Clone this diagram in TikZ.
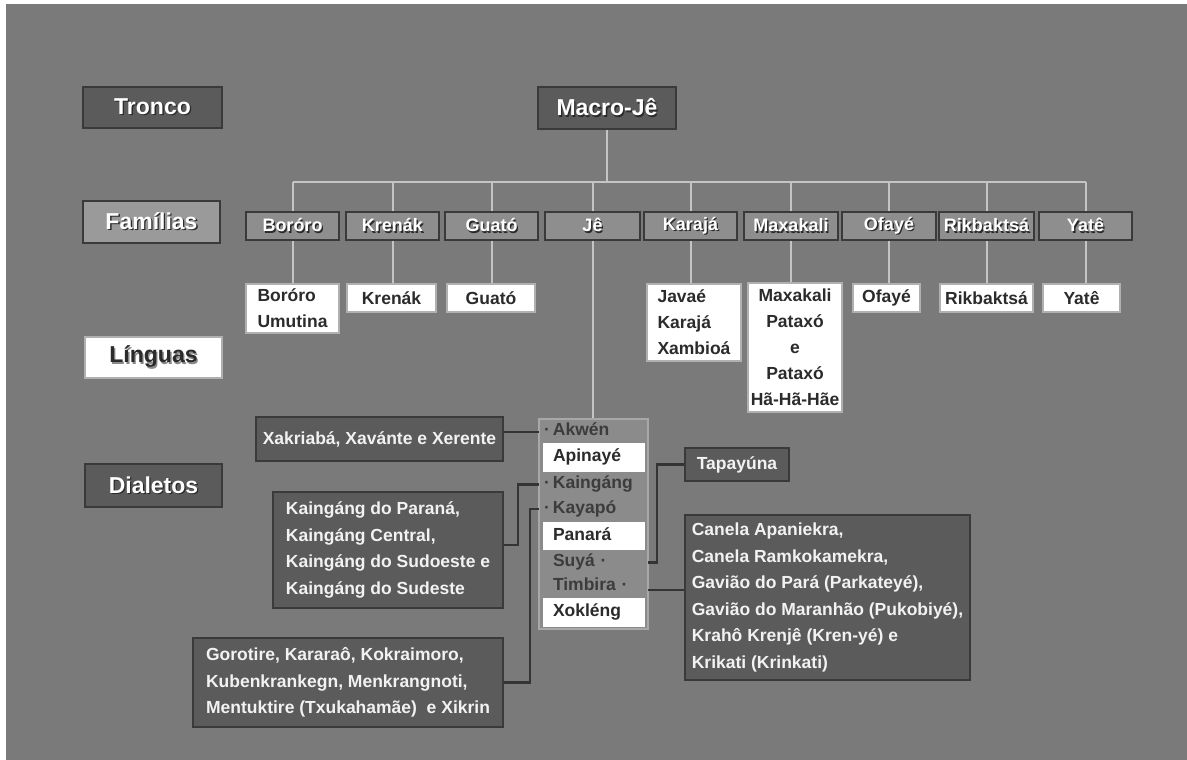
\documentclass[tikz,border=0pt]{standalone}
\usepackage{fontspec}
\setmainfont{Liberation Sans}
\definecolor{bgc}{HTML}{7A7A7A}
\definecolor{darkbox}{HTML}{5B5B5B}
\definecolor{boxline}{HTML}{3A3A3A}
\definecolor{fambox}{HTML}{8E8E8E}
\definecolor{famhdr}{HTML}{9A9A9A}
\definecolor{langline}{HTML}{B0B0B0}
\definecolor{langtext}{HTML}{2B2B2B}
\definecolor{busc}{HTML}{C4C4C4}
\definecolor{dlinec}{HTML}{343434}
\definecolor{diatext}{HTML}{F2F2F2}
\definecolor{jefill}{HTML}{8B8B8B}
\definecolor{jeline}{HTML}{A8A8A8}
\definecolor{rowtext}{HTML}{3C3C3C}
\definecolor{shadowc}{HTML}{2A2A2A}
\definecolor{shadowl}{HTML}{8A8A8A}
\newcommand\shd[1]{\leavevmode\rlap{\kern1.3pt\raisebox{-1.3pt}{\textcolor{shadowc}{#1}}}#1}
\newcommand\shl[1]{\leavevmode\rlap{\kern1.3pt\raisebox{-1.3pt}{\textcolor{shadowl}{#1}}}#1}
\tikzset{
  hdr/.style={draw=boxline, line width=1.6pt, inner sep=0pt, font=\bfseries\fontsize{23}{26}\selectfont},
  darkhdr/.style={hdr, fill=darkbox, text=white},
  famhd/.style={hdr, fill=famhdr, text=white},
  langhd/.style={hdr, draw=langline, fill=white, text=langtext},
  fam/.style={draw=boxline, line width=1.3pt, fill=fambox, text=white, minimum height=28pt, inner sep=0pt, font=\bfseries\fontsize{18}{20}\selectfont},
  lang/.style={draw=langline, line width=1.3pt, fill=white, text=langtext, inner sep=0pt, font=\bfseries\fontsize{17.5}{26}\selectfont, align=left},
  langc/.style={lang, align=center},
  dia/.style={draw=boxline, line width=1.6pt, fill=darkbox, text=diatext, inner sep=0pt, font=\bfseries\fontsize{17.5}{26.5}\selectfont, align=left},
  jecolumn/.style={draw=jeline, line width=1.5pt, fill=jefill, inner sep=0pt},
  greyrow/.style={inner sep=0pt, minimum width=109pt, text width=81pt, align=left, text=rowtext, text height=12.5pt, text depth=3.7pt, font=\bfseries\fontsize{17.5}{20}\selectfont},
  whiterow/.style={fill=white, inner sep=0pt, minimum width=102pt, text width=82pt, align=left, text=langtext, text height=12.5pt, text depth=3.7pt, font=\bfseries\fontsize{17.5}{20}\selectfont},
  busline/.style={draw=busc, line width=2pt},
  dline/.style={draw=dlinec, line width=2.5pt},
}
\begin{document}
\begin{tikzpicture}[x=1pt,y=-1pt]
\useasboundingbox (0,0) rectangle (1187,760);
\fill[white] (0,0) rectangle (1187,760);
\fill[bgc] (6,4) rectangle (1187,760);

% level headers
\node[darkhdr, minimum width=139pt, minimum height=41pt] (tronco) at (152.5,107.5) {\shd{Tronco}};
\node[famhd, minimum width=137pt, minimum height=42pt] (familias) at (151.5,222) {\shd{Famílias}};
\node[langhd, minimum width=137pt, minimum height=41pt] (linguas) at (153.5,357.5) {\shl{Línguas}};
\node[darkhdr, minimum width=137pt, minimum height=43pt] (dialetos) at (153.5,485.5) {\shd{Dialetos}};

% trunk
\node[darkhdr, minimum width=138pt, minimum height=42pt] (macro) at (607,108) {\shd{Macro-Jê}};

% families
\node[fam, minimum width=93pt] (bor) at (292.5,226) {\shd{Boróro}};
\node[fam, minimum width=93pt] (kre) at (392.5,226) {\shd{Krenák}};
\node[fam, minimum width=93pt] (gua) at (491.5,226) {\shd{Guató}};
\node[fam, minimum width=95pt] (je)  at (592.5,226) {\shd{Jê}};
\node[fam, minimum width=93pt] (kar) at (690.5,226) {\shd{Karajá}};
\node[fam, minimum width=94pt] (max) at (791,226) {\shd{Maxakali}};
\node[fam, minimum width=94pt] (ofa) at (889,226) {\shd{Ofayé}};
\node[fam, minimum width=95pt] (rik) at (986.5,226) {\shd{Rikbaktsá}};
\node[fam, minimum width=93pt] (yat) at (1085.5,226) {\shd{Yatê}};

% bus
\coordinate (bus) at (602,182);
\draw[busline] (macro.south) -- (macro.south |- bus);
\draw[busline] (bor.north |- bus) -- (yat.north |- bus);
\foreach \n in {bor,kre,gua,je,kar,max,ofa,rik,yat}
  \draw[busline] (\n.north) -- (\n.north |- bus);

% languages
\node[lang, minimum width=93pt, minimum height=49pt] (borl) at (292.5,308.5) {Boróro\\Umutina};
\node[lang, minimum width=89pt, minimum height=28pt] (krel) at (391.5,298) {Krenák};
\node[langc, minimum width=88pt, minimum height=28pt] (gual) at (491,298) {Guató};
\node[lang, minimum width=94pt, minimum height=77pt] (karl) at (694,322.5) {Javaé\\Karajá\\Xambioá};
\node[langc, minimum width=94pt, minimum height=129pt] (maxl) at (795,347.5) {Maxakali\\Pataxó\\e\\Pataxó\\Hã-Hã-Hãe};
\node[langc, minimum width=67pt, minimum height=28pt] (ofal) at (886.5,298) {Ofayé};
\node[langc, minimum width=93pt, minimum height=28pt] (rikl) at (986.5,298) {Rikbaktsá};
\node[langc, minimum width=77pt, minimum height=28pt] (yatl) at (1081.5,298) {Yatê};

\draw[busline] (bor.south) -- (bor.south |- borl.north);
\draw[busline] (kre.south) -- (kre.south |- krel.north);
\draw[busline] (gua.south) -- (gua.south |- gual.north);
\draw[busline] (kar.south) -- (kar.south |- karl.north);
\draw[busline] (max.south) -- (max.south |- maxl.north);
\draw[busline] (ofa.south) -- (ofa.south |- ofal.north);
\draw[busline] (rik.south) -- (rik.south |- rikl.north);
\draw[busline] (yat.south) -- (yat.south |- yatl.north);

% Je column
\node[jecolumn, minimum width=109pt, minimum height=210pt] (jecol) at (593.5,524) {};
\draw[busline] (je.south) -- (je.south |- jecol.north);
\node[greyrow, minimum height=24pt] (akw) at (593.5,431) {\llap{·\kern3pt}Akwén};
\node[whiterow, minimum height=29pt] (api) at (594,457.5) {Apinayé};
\node[greyrow, minimum height=25pt] (kai) at (593.5,484.5) {\llap{·\kern3pt}Kaingáng};
\node[greyrow, minimum height=24pt] (kay) at (593.5,509) {\llap{·\kern3pt}Kayapó};
\node[whiterow, minimum height=28pt] (pan) at (594,536) {Panará};
\node[greyrow, minimum height=25pt] (suy) at (593.5,562.5) {Suyá ·};
\node[greyrow, minimum height=22pt] (tim) at (593.5,586) {Timbira ·};
\node[whiterow, minimum height=29pt] (xok) at (594,612.5) {Xokléng};

% dialect boxes
\node[dia, align=center, minimum width=247pt, minimum height=44pt] (xak) at (379.5,439) {Xakriabá, Xavánte e Xerente};
\node[dia, minimum width=230pt, minimum height=116pt] (kgb) at (388,550) {Kaingáng do Paraná,\\Kaingáng Central,\\Kaingáng do Sudoeste e\\Kaingáng do Sudeste};
\node[dia, minimum width=310pt, minimum height=89pt] (gor) at (348,682.5) {Gorotire, Kararaô, Kokraimoro,\\Kubenkrankegn, Menkrangnoti,\\Mentuktire (Txukahamãe)\ \ e Xikrin};
\node[dia, align=center, minimum width=104pt, minimum height=33pt] (tap) at (737,464.5) {Tapayúna};
\node[dia, minimum width=285pt, minimum height=165pt] (can) at (827.5,597.5) {Canela Apaniekra,\\Canela Ramkokamekra,\\Gavião do Pará (Parkateyé),\\Gavião do Maranhão (Pukobiyé),\\Krahô Krenjê (Kren-yé) e\\Krikati (Krinkati)};

% dialect connectors
\draw[dline] ([yshift=-1pt]akw.west) -- ([yshift=-1pt]akw.west -| xak.east);
\draw[dline] (kai.west) -- ++(-21,0) |- ([yshift=5pt]kgb.east);
\draw[dline] (kay.west) -- ++(-9,0) |- (gor.east);
\draw[dline] (suy.east) -- ++(9,0) |- (tap.west);
\draw[dline] ([yshift=-4pt]tim.east) -- ([yshift=-4pt]tim.east -| can.west);
\end{tikzpicture}
\end{document}
